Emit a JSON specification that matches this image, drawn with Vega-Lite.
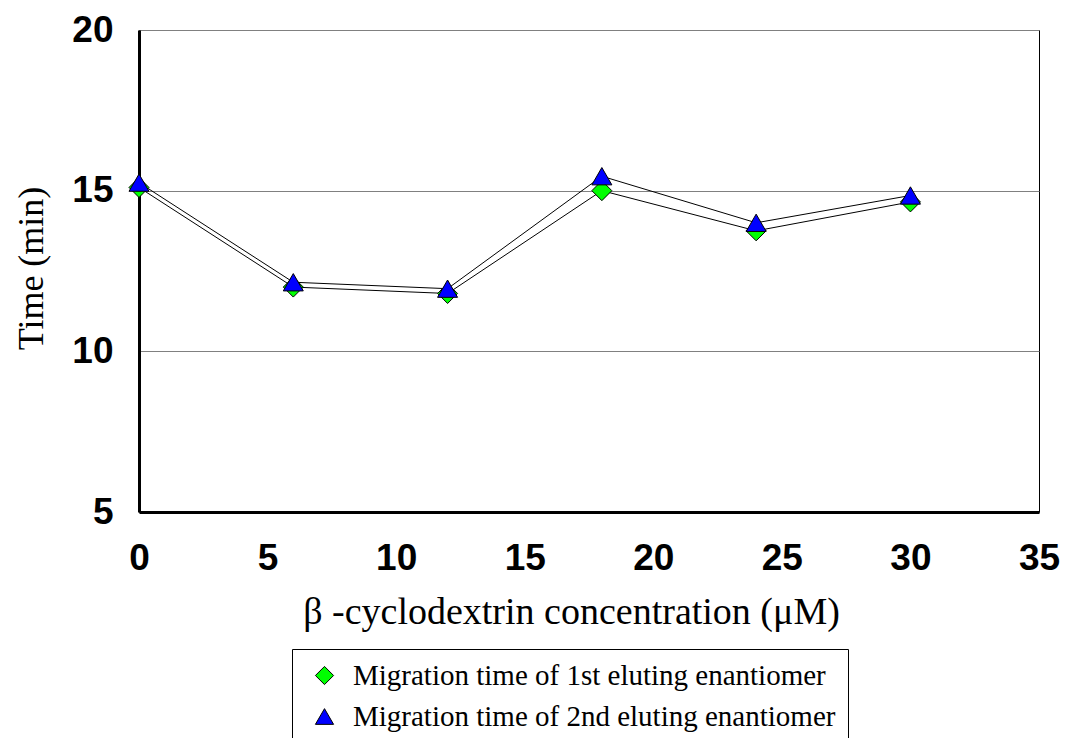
{
  "$schema": "https://vega.github.io/schema/vega-lite/v6.json",
  "autosize": {"type": "none"},
  "width": 900,
  "height": 482,
  "padding": {"left": 139, "top": 30, "right": 27, "bottom": 226},
  "background": "white",
  "config": {"view": {"stroke": "black", "strokeWidth": 1}},
  "data": {
    "values": [
      {"conc": 0, "series": "Migration time of 1st eluting enantiomer", "time": 15.1},
      {"conc": 6, "series": "Migration time of 1st eluting enantiomer", "time": 12.0},
      {"conc": 12, "series": "Migration time of 1st eluting enantiomer", "time": 11.8},
      {"conc": 18, "series": "Migration time of 1st eluting enantiomer", "time": 15.0},
      {"conc": 24, "series": "Migration time of 1st eluting enantiomer", "time": 13.75},
      {"conc": 30, "series": "Migration time of 1st eluting enantiomer", "time": 14.65},
      {"conc": 0, "series": "Migration time of 2nd eluting enantiomer", "time": 15.25},
      {"conc": 6, "series": "Migration time of 2nd eluting enantiomer", "time": 12.15},
      {"conc": 12, "series": "Migration time of 2nd eluting enantiomer", "time": 11.95},
      {"conc": 18, "series": "Migration time of 2nd eluting enantiomer", "time": 15.45},
      {"conc": 24, "series": "Migration time of 2nd eluting enantiomer", "time": 14.0},
      {"conc": 30, "series": "Migration time of 2nd eluting enantiomer", "time": 14.85}
    ]
  },
  "encoding": {
    "x": {
      "field": "conc", "type": "quantitative",
      "scale": {"domain": [0, 35], "nice": false, "zero": false},
      "axis": {
        "values": [0, 5, 10, 15, 20, 25, 30, 35],
        "grid": false, "ticks": false,
        "domainColor": "black", "domainWidth": 3,
        "labelFont": "Liberation Sans", "labelFontWeight": "bold", "labelFontSize": 37,
        "labelColor": "black", "labelPadding": 28, "labelBaseline": "top", "labelFlush": false,
        "title": "β -cyclodextrin concentration (μM)",
        "titleFont": "Liberation Serif", "titleFontWeight": "normal", "titleFontSize": 38,
        "titleColor": "black", "titleX": 432, "titleY": 111, "titleBaseline": "alphabetic", "titleAnchor": null
      }
    },
    "y": {
      "field": "time", "type": "quantitative",
      "scale": {"domain": [5, 20], "nice": false, "zero": false},
      "axis": {
        "values": [5, 10, 15, 20],
        "grid": true, "gridColor": "#808080", "gridWidth": 1, "gridOpacity": 1,
        "ticks": false,
        "domainColor": "black", "domainWidth": 3,
        "labelFont": "Liberation Sans", "labelFontWeight": "bold", "labelFontSize": 37,
        "labelColor": "black", "labelPadding": 26, "labelFlush": false,
        "title": "Time (min)",
        "titleFont": "Liberation Serif", "titleFontWeight": "normal", "titleFontSize": 36,
        "titleColor": "black", "titleX": -97, "titleY": 238, "titleAngle": -90,
        "titleBaseline": "alphabetic", "titleAlign": "center"
      }
    }
  },
  "layer": [
    {
      "mark": {"type": "line", "color": "black", "strokeWidth": 1},
      "encoding": {"detail": {"field": "series"}}
    },
    {
      "mark": {"type": "point", "filled": true, "size": 400, "stroke": "black", "strokeWidth": 1, "opacity": 1},
      "encoding": {
        "fill": {
          "field": "series", "type": "nominal",
          "scale": {"range": ["#00FF00", "#0000FF"]},
          "legend": {
            "title": null, "orient": "none", "legendX": 153, "legendY": 619,
            "direction": "vertical",
            "strokeColor": "black", "fillColor": "white", "padding": 12,
            "labelFont": "Liberation Serif", "labelFontSize": 29, "labelColor": "black",
            "labelOffset": 14, "labelLimit": 800,
            "symbolSize": 330, "symbolOffset": 6, "symbolStrokeColor": "black", "symbolStrokeWidth": 1,
            "rowPadding": 11
          }
        },
        "shape": {
          "field": "series", "type": "nominal",
          "scale": {"range": ["diamond", "triangle-up"]}
        }
      }
    }
  ]
}
